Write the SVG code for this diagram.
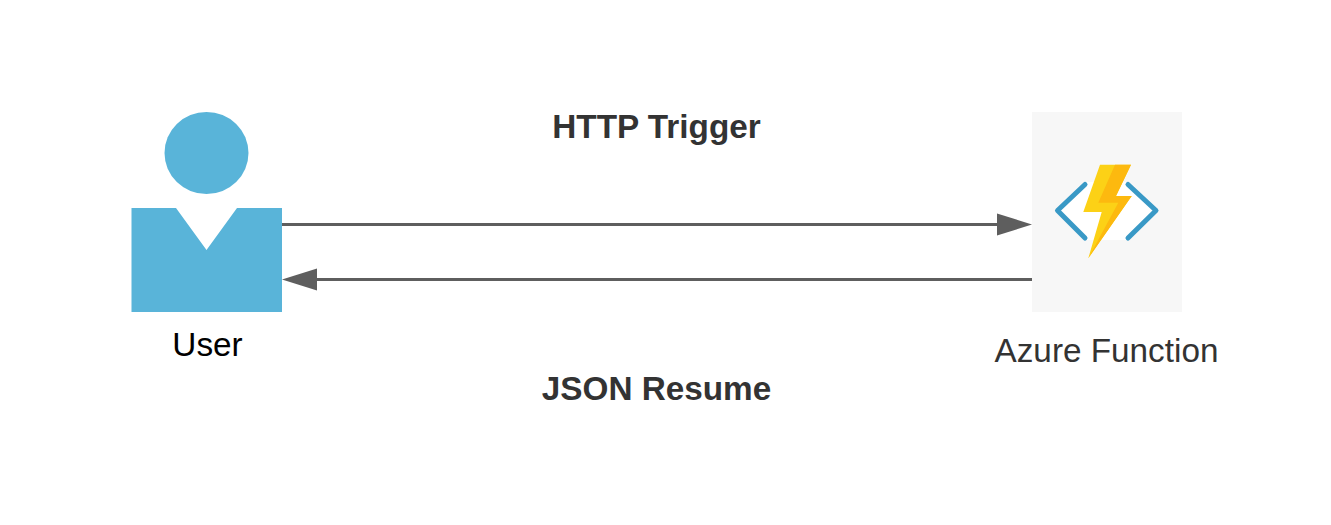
<svg xmlns="http://www.w3.org/2000/svg" width="1331" height="525" viewBox="0 0 1331 525">
<style>
text{font-family:"Liberation Sans",Arial,sans-serif}
.bold{font-weight:700;font-size:33.3px;fill:#333}
.label{font-size:33.3px}
.user{fill:#59b4d9}
.conn{stroke:#5e5e5e;stroke-width:3;fill:none}
.br{stroke:#3999c6;stroke-width:5;fill:none;stroke-linecap:round;stroke-linejoin:round}
</style>
<defs>
<marker id="arrow" markerUnits="userSpaceOnUse" markerWidth="36" markerHeight="24" refX="1" refY="12" orient="auto"><path d="M1 1L36 12L1 23Z" fill="#5e5e5e"/></marker>
</defs>
<rect width="1331" height="525" fill="#fff"/>
<g id="connectors">
<path class="conn" d="M282 224.500H997" marker-end="url(#arrow)"/>
<path class="conn" d="M1032 279.500H317" marker-end="url(#arrow)"/>
</g>
<g id="user">
<ellipse class="user" cx="206.500" cy="153" rx="42" ry="41"/>
<path class="user" d="M131.500 208H176L206.500 250L237 208H282V312H131.500Z"/>
<text class="label" x="207.500" y="356" text-anchor="middle" fill="#000">User</text>
</g>
<g id="azure-function">
<rect x="1032" y="112" width="150" height="200" fill="#f7f7f7"/>
<path d="M1085 182H1128L1156 210L1128 240H1085L1057 210Z" fill="#fff"/>
<path class="br" d="M1085 184.500L1057.500 210.500L1085 238M1128 184.500L1156 210.500L1128 238"/>
<path d="M1100 164.700H1131L1116 196H1131.700L1088.300 258.300L1101.700 212H1083.300Z" fill="#fcd116"/>
<path d="M1115 164.700H1131L1116 196H1131.700L1088.300 258.300L1118.300 202.700H1098.300Z" fill="#fdb90f"/>
<text class="label" x="1106.500" y="362" text-anchor="middle" fill="#333">Azure Function</text>
</g>
<g id="labels">
<text class="bold" x="656.500" y="138" text-anchor="middle">HTTP Trigger</text>
<text class="bold" x="656.500" y="400" text-anchor="middle">JSON Resume</text>
</g>
</svg>
